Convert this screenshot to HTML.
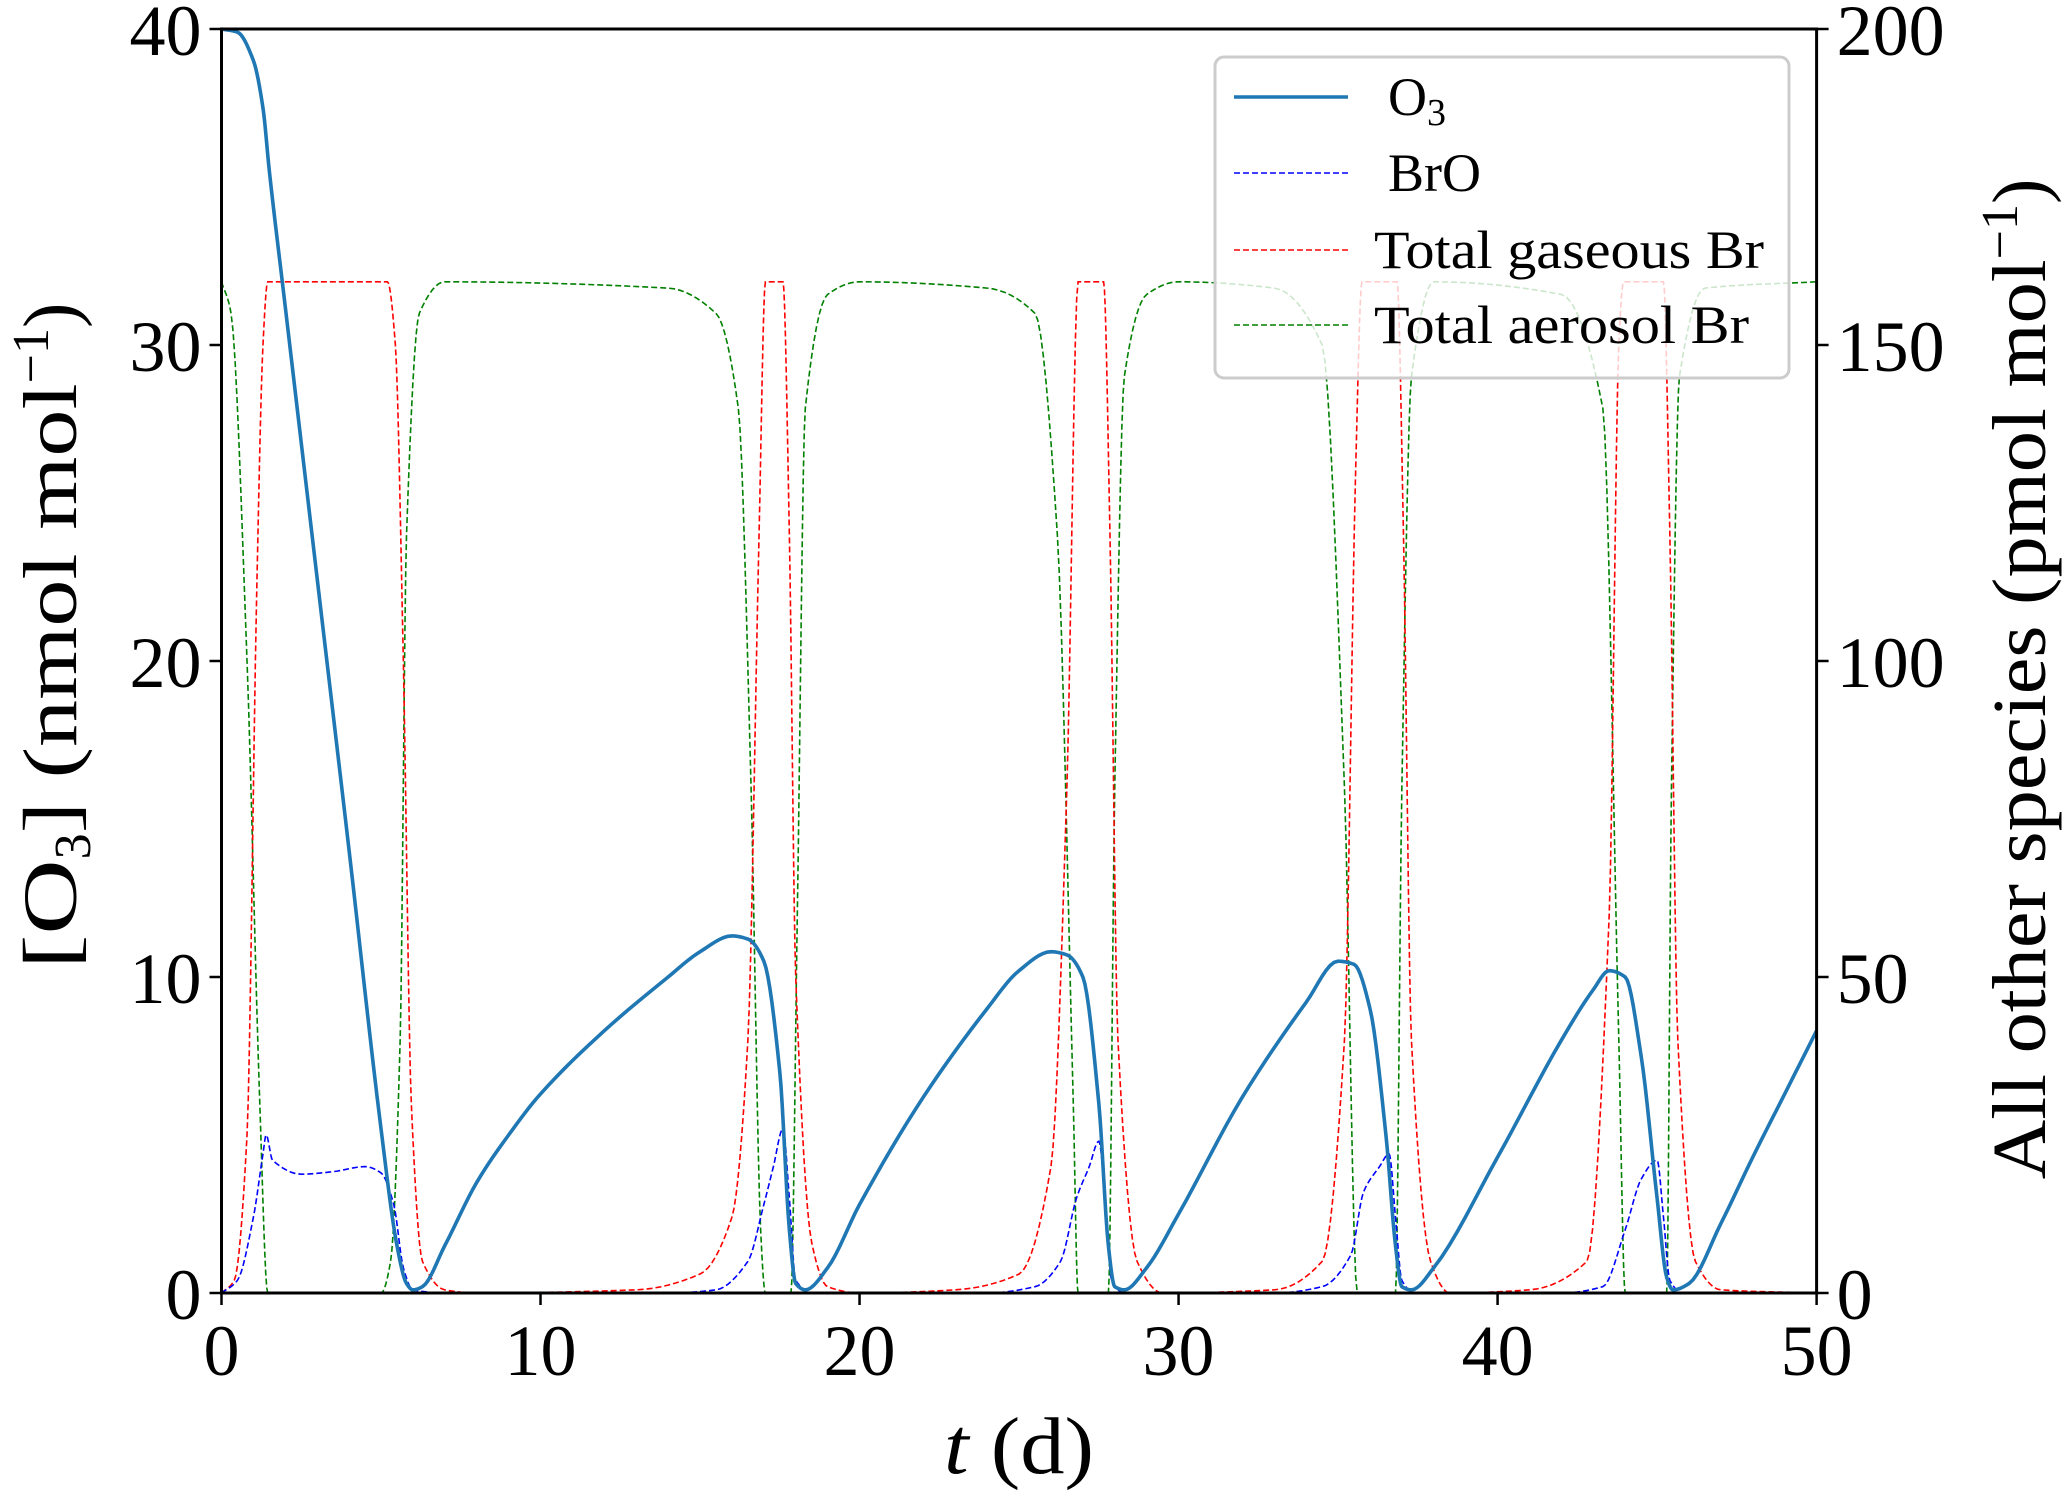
<!DOCTYPE html>
<html><head><meta charset="utf-8"><style>
html,body{margin:0;padding:0;background:#fff;}
svg{display:block;font-family:"Liberation Serif","DejaVu Serif",serif;}
</style></head><body>
<svg id="chart" width="2067" height="1496" viewBox="0 0 2067 1496" xmlns="http://www.w3.org/2000/svg">
<g id="series"></g>
<g id="axes"></g>
<g id="legend"></g>
</svg>
<script>
const xTicks=[0,10,20,30,40,50];
const leftTicks=[0,10,20,30,40];
const rightTicks=[0,50,100,150,200];
const o3T=[0,0.5,1,1.3,1.5,2,3,4,5,5.5,5.8,6,6.3,7,8,9,10,12,14,15,16,16.5,17,17.5,17.8,18,18.3,19,20,22,24,25,26,26.5,27,27.5,27.8,28,28.3,29,30,32,34,35,35.5,36,36.5,36.8,37,37.3,38,40,42,43,43.5,44,44.5,45,45.3,45.5,46,47,48,49,50];
const o3V=[40,39.9,39,37.5,35.5,31.2,22.6,14,5.2,1.5,0.3,0.1,0.2,1.5,3.5,5,6.3,8.3,10,10.8,11.3,11.2,10.5,7,2,0.3,0.1,0.8,2.8,6.2,9,10.2,10.8,10.7,10,6,1.5,0.2,0.1,0.8,2.5,6.2,9.2,10.5,10.4,9,5,1.5,0.2,0.1,0.8,4.3,8,9.6,10.2,10,7.5,3,0.5,0.1,0.3,2.2,4.3,6.3,8.3];
const broT=[0,0.5,1,1.3,1.4,1.6,2.5,3.5,4.5,5,5.4,5.7,6,7,14,15.5,16.5,17,17.3,17.6,17.8,18,18.5,24,25.5,26.3,26.8,27.2,27.5,27.7,27.9,28.3,33,34.5,35.4,35.8,36.3,36.6,36.8,37,37.4,42,43.3,44,44.5,45,45.2,45.4,45.8,50];
const broV=[0,2,12,22,25,21,18.8,19.2,20,19,14,4,0.5,0,0,0.5,5,14,20,26,15,2,0,0,1,5,15,20,24,15,2,0,0,1,6,16,20,22,12,2,0,0,1,10,18,21,12,2,0,0];
const gasT=[0,0.4,0.8,1.1,1.3,1.45,5.2,5.45,5.7,5.95,6.3,7,8,13,15,16,16.5,16.85,17.05,17.6,17.8,18,18.5,19,20,23,25,26,26.5,26.85,27.65,27.85,28.1,28.7,29.5,33,34.5,35.2,35.55,35.75,36.85,37.05,37.3,37.9,38.5,41,42.8,43.5,43.8,43.95,45.2,45.4,45.65,46.2,47,50];
const gasV=[0,2,25,110,150,160,160,150,100,30,5,0.5,0,0.5,3,12,40,120,160,160,120,50,8,1,0,0.5,3,20,80,160,160,120,40,5,0,0.5,5,40,130,160,160,120,40,5,0,0.5,5,60,150,160,160,120,40,5,0.5,0];
const aerT=[0,0.3,0.8,1.2,1.45,5,5.3,5.6,5.8,6.2,7,14,15.5,16.2,16.6,16.9,17.05,17.85,18.05,18.3,19,20,24,25.5,26.2,26.7,26.85,27.8,28,28.3,29,30,33,34.5,35.2,35.6,36.8,37,37.3,38,42,43.3,43.8,44,45.3,45.45,45.7,46.5,50];
const aerV=[160,155,100,30,0,0,5,40,120,155,160,159,155,140,80,10,0,0,60,140,158,160,159,155,120,30,0,0,80,145,158,160,159,150,80,0,0,80,145,160,158,140,40,0,0,80,145,159,160];

const L=221.5,R=1816.6,T=29,B=1293;
const xs=t=>L+(t-0)/(50-0)*(R-L);
const yl=v=>B-v/40*(B-T);
const yr=v=>B-v/200*(B-T);
const NS='http://www.w3.org/2000/svg';
function mk(tag,attrs,parent){const e=document.createElementNS(NS,tag);for(const k in attrs)e.setAttribute(k,attrs[k]);parent.appendChild(e);return e;}
function monoPath(X,Y,fx,fy){
  const n=X.length,d=[],m=[];
  for(let i=0;i<n-1;i++)d.push((Y[i+1]-Y[i])/(X[i+1]-X[i]));
  for(let i=0;i<n;i++){
    if(i==0)m.push(d[0]);else if(i==n-1)m.push(d[n-2]);
    else m.push(d[i-1]*d[i]<=0?0:2/(1/d[i-1]+1/d[i]));
  }
  let p='M'+fx(X[0]).toFixed(2)+','+fy(Y[0]).toFixed(2);
  for(let i=0;i<n-1;i++){
    const h=X[i+1]-X[i];
    for(let k=1;k<=8;k++){
      const s=k/8,h00=2*s*s*s-3*s*s+1,h10=s*s*s-2*s*s+s,h01=-2*s*s*s+3*s*s,h11=s*s*s-s*s;
      const v=h00*Y[i]+h10*h*m[i]+h01*Y[i+1]+h11*h*m[i+1];
      p+='L'+fx(X[i]+s*h).toFixed(2)+','+fy(v).toFixed(2);
    }
  }
  return p;
}
const sg=document.getElementById('series');
let e;
e=mk('path',{d:monoPath(aerT,aerV,xs,yr),fill:'none',stroke:'#008000','stroke-width':1.6,'stroke-dasharray':'6,3'},sg);


e=mk('path',{d:monoPath(gasT,gasV,xs,yr),fill:'none',stroke:'#ff0000','stroke-width':1.6,'stroke-dasharray':'6,3'},sg);


e=mk('path',{d:monoPath(broT,broV,xs,yr),fill:'none',stroke:'#0000ff','stroke-width':1.6,'stroke-dasharray':'6,3'},sg);


e=mk('path',{d:monoPath(o3T,o3V,xs,yl),fill:'none',stroke:'#1f77b4','stroke-width':3.6},sg);



const ag=document.getElementById('axes');
e=mk('rect',{x:L,y:T,width:R-L,height:B-T,fill:'none',stroke:'#000','stroke-width':3},ag);


xTicks.forEach(t=>{
  e=mk('line',{x1:xs(t),x2:xs(t),y1:B,y2:B+12,stroke:'#000','stroke-width':2.5},ag);
  
  
  e=mk('text',{x:xs(t),y:B+82,'font-size':72,'text-anchor':'middle'},ag);
  e.textContent=t;
  
  
});
leftTicks.forEach(v=>{
  e=mk('line',{x1:L-12,x2:L,y1:yl(v),y2:yl(v),stroke:'#000','stroke-width':2.5},ag);
  
  
  e=mk('text',{x:L-20,y:yl(v)+26,'font-size':72,'text-anchor':'end'},ag);
  e.textContent=v;
  
  
});
rightTicks.forEach(v=>{
  e=mk('line',{x1:R,x2:R+12,y1:yr(v),y2:yr(v),stroke:'#000','stroke-width':2.5},ag);
  
  
  e=mk('text',{x:R+20,y:yr(v)+26,'font-size':72,'text-anchor':'start'},ag);
  e.textContent=v;
  
  
});
e=mk('text',{x:(L+R)/2,y:1473,'font-size':80,'text-anchor':'middle',textLength:150,lengthAdjust:'spacingAndGlyphs'},ag);
e.innerHTML='<tspan font-style="italic">t</tspan> (d)';


e=mk('text',{x:0,y:0,'font-size':76,'text-anchor':'middle',transform:'translate(76,636) rotate(-90)'},ag);
e.innerHTML='<tspan textLength="110" lengthAdjust="spacingAndGlyphs">[O</tspan><tspan font-size="52" dy="14">3</tspan><tspan dy="-14" textLength="450" lengthAdjust="spacingAndGlyphs">] (nmol mol</tspan><tspan font-size="52" dy="-28">−1</tspan><tspan dy="28">)</tspan>';


e=mk('text',{x:0,y:0,'font-size':76,'text-anchor':'middle',transform:'translate(2045,679) rotate(-90)'},ag);
e.innerHTML='<tspan textLength="920" lengthAdjust="spacingAndGlyphs">All other species (pmol mol</tspan><tspan font-size="52" dy="-28">−1</tspan><tspan dy="28">)</tspan>';



const lg=document.getElementById('legend');
e=mk('rect',{x:1215,y:57,width:574,height:321,rx:9,fill:'rgba(255,255,255,0.8)',stroke:'#ccc','stroke-width':3},lg);


const legItems=[['O3','#1f77b4',3.6,'',97],['BrO','#0000ff',1.6,'6,3',173],['Total gaseous Br','#ff0000',1.6,'6,3',250],['Total aerosol Br','#008000',1.6,'6,3',325]];
legItems.forEach(it=>{
  e=mk('line',{x1:1234,x2:1348,y1:it[4],y2:it[4],stroke:it[1],'stroke-width':it[2],'stroke-dasharray':it[3]},lg);
  
  
  const attrs={x:it[0]=='O3'||it[0]=='BrO'?1388:1374,y:it[4]+18,'font-size':54};
  if(it[0]=='Total gaseous Br'){attrs.textLength=390;attrs.lengthAdjust='spacingAndGlyphs';}
  if(it[0]=='Total aerosol Br'){attrs.textLength=375;attrs.lengthAdjust='spacingAndGlyphs';}
  e=mk('text',attrs,lg);
  if(it[0]=='O3')e.innerHTML='O<tspan font-size="38" dy="10">3</tspan>';else e.textContent=it[0];
  
  
});
</script>
</body></html>
